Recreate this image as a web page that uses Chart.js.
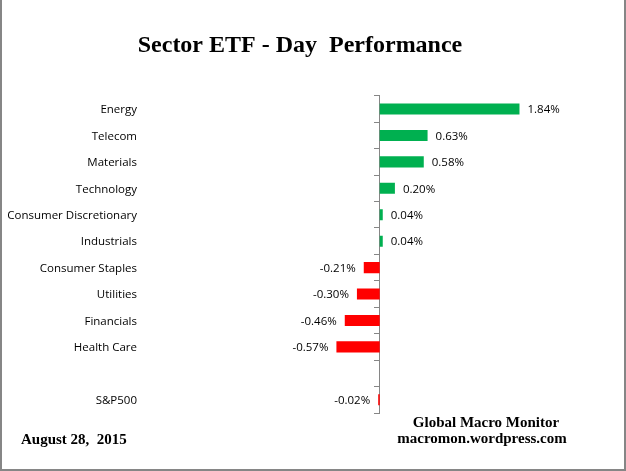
<!DOCTYPE html>
<html>
<head>
<meta charset="utf-8">
<script src="https://cdn.jsdelivr.net/npm/chart.js@4.4.1/dist/chart.umd.min.js"></script>
<style>
  html, body { margin: 0; padding: 0; background: #fff; }
  #wrap { position: relative; width: 626px; height: 471px; overflow: hidden; background: #fff; }
  #wrap canvas { position: absolute; left: 0; top: 0; }
  #frame { position: absolute; left: 0; top: 0; width: 626px; height: 471px; box-sizing: border-box;
           border-left: 2px solid #868686; border-right: 2px solid #868686; border-bottom: 2px solid #868686;
           pointer-events: none; }
  .note { position: absolute; font-family: "Liberation Serif", "Times New Roman", serif; font-weight: bold;
          font-size: 15px; line-height: 15px; color: #000; white-space: pre; }
</style>
</head>
<body>
<div id="wrap">
  <canvas id="c" width="626" height="471"></canvas>
  <div class="note" style="left:21px; top:432px;">August 28,  2015</div>
  <div class="note" style="left:386px; width:200px; text-align:center; top:415px;">Global Macro Monitor</div>
  <div class="note" style="left:382px; width:200px; text-align:center; top:431px;">macromon.wordpress.com</div>
  <div id="frame"></div>
</div>
<script>
const categories = ['Energy', 'Telecom', 'Materials', 'Technology', 'Consumer Discretionary', 'Industrials',
                    'Consumer Staples', 'Utilities', 'Financials', 'Health Care', '', 'S&P500'];
const values = [1.84, 0.63, 0.58, 0.20, 0.04, 0.04, -0.21, -0.30, -0.46, -0.57, null, -0.02];
const titleText = 'Sector ETF - Day  Performance';

const GREEN = '#00B050';
const RED = '#FF0000';
const AXIS = '#868686';
const labelFont = { family: '"Open Sans", "Noto Sans", sans-serif', size: 11.5 };

const valueLabels = {
  id: 'valueLabels',
  afterDatasetsDraw(chart) {
    const ctx = chart.ctx;
    const meta = chart.getDatasetMeta(0);
    ctx.save();
    ctx.font = '11.5px "Open Sans", "Noto Sans", sans-serif';
    ctx.fillStyle = '#000';
    ctx.textBaseline = 'middle';
    meta.data.forEach((el, i) => {
      const v = values[i];
      if (v === null || v === undefined) return;
      const txt = v.toFixed(2) + '%';
      if (v >= 0) { ctx.textAlign = 'left'; ctx.fillText(txt, el.x + 8, el.y + 1); }
      else { ctx.textAlign = 'right'; ctx.fillText(txt, el.x - 8, el.y + 1); }
    });
    ctx.restore();
  }
};

new Chart(document.getElementById('c'), {
  type: 'bar',
  data: {
    labels: categories,
    datasets: [{
      data: values,
      backgroundColor: values.map(v => (v !== null && v < 0) ? RED : GREEN),
      borderWidth: 0,
      barPercentage: 0.42,
      categoryPercentage: 1.0
    }]
  },
  options: {
    indexAxis: 'y',
    responsive: false,
    animation: false,
    layout: { padding: { left: 0, right: 26, top: 0, bottom: 58 } },
    plugins: {
      legend: { display: false },
      tooltip: { enabled: false },
      title: {
        display: true,
        text: titleText,
        color: '#000',
        font: { family: '"Liberation Serif", "Times New Roman", serif', size: 24, weight: 'bold', lineHeight: 1.2 },
        padding: { top: 31, bottom: 36 }
      }
    },
    scales: {
      x: {
        type: 'linear',
        display: false,
        min: -3.09,
        max: 2.9
      },
      y: {
        type: 'category',
        position: 'left',
        offset: true,
        grid: { display: false, drawTicks: false },
        border: { display: false },
        ticks: { color: '#000', font: labelFont, padding: 8, autoSkip: false, labelOffset: 1 },
        afterFit: (s) => { s.width = 145; s.paddingTop = 0; s.paddingBottom = 0; }
      },
      y2: {
        type: 'category',
        axis: 'y',
        position: { x: 0 },
        offset: true,
        grid: { offset: true, drawOnChartArea: false, drawTicks: true, tickLength: 5, color: AXIS, lineWidth: 1 },
        border: { display: true, color: AXIS, width: 1 },
        ticks: { display: false, autoSkip: false }
      }
    }
  },
  plugins: [valueLabels]
});
</script>
</body>
</html>
